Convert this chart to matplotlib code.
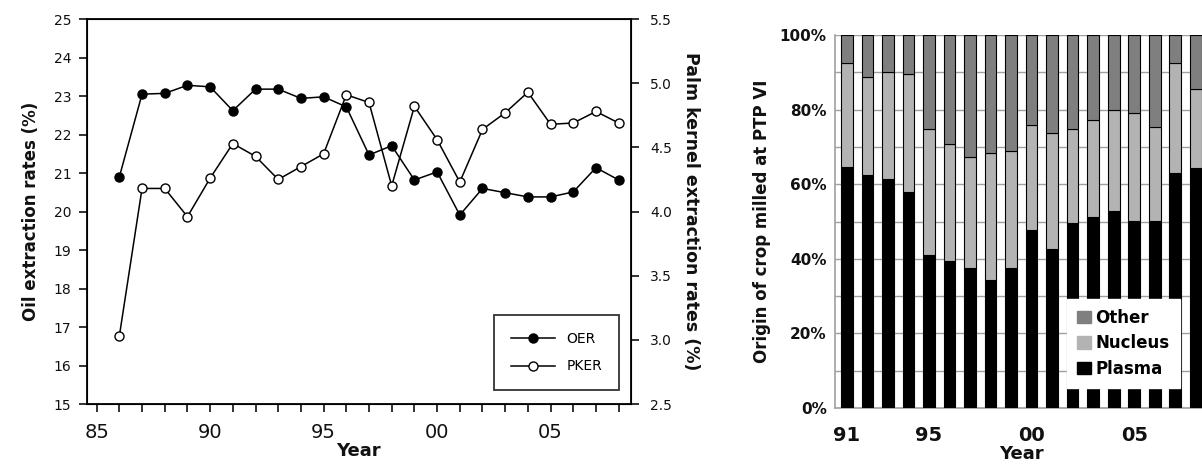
import matplotlib
matplotlib.use("Agg")
import matplotlib.pyplot as plt
from matplotlib.ticker import FixedLocator, FuncFormatter
from matplotlib.patches import Patch

plt.rcParams['font.family'] = ['DejaVu Sans']

# left panel: extraction rates
years = list(range(1986, 2009))
oer = [20.9, 23.05, 23.07, 23.28, 23.24, 22.62, 23.18, 23.18, 22.94, 22.98, 22.72, 21.47,
       21.71, 20.82, 21.03, 19.91, 20.60, 20.49, 20.38, 20.38, 20.51, 21.14, 20.82]
pker = [3.03, 4.18, 4.18, 3.96, 4.26, 4.53, 4.43, 4.25, 4.35, 4.45, 4.91, 4.85,
        4.20, 4.82, 4.56, 4.23, 4.64, 4.77, 4.93, 4.68, 4.69, 4.78, 4.69]

# right panel: origin of crop milled (%)
bar_years = ["91", "92", "93", "94", "95", "96", "97", "98", "99",
             "00", "01", "02", "03", "04", "05", "06", "07", "08"]
plasma = [64.7, 62.5, 61.3, 58.0, 40.9, 39.3, 37.5, 34.2, 37.5,
          47.8, 42.7, 49.6, 51.2, 52.9, 50.2, 50.2, 63.1, 64.3]
nucleus = [27.7, 26.3, 28.9, 31.6, 33.8, 31.5, 29.9, 34.3, 31.5,
           28.0, 31.0, 25.1, 25.9, 27.0, 29.0, 25.1, 29.5, 21.2]
other = [100 - p - n for p, n in zip(plasma, nucleus)]

fig = plt.figure(figsize=(12.02, 4.70), dpi=100)
txt = '#111111'

# ---- left chart ----
ax = fig.add_axes([0.0721, 0.1404, 0.4528, 0.819])
l1, = ax.plot(years, oer, color='black', lw=1.1, marker='o', ms=6.5,
              mfc='black', mec='black', label='OER')
ax.set_xlim(1984.56, 2008.54)
ax.set_ylim(15, 25)
ax.set_yticks(range(15, 26))
ax.xaxis.set_major_locator(FixedLocator(range(1985, 2009)))
ax.xaxis.set_major_formatter(FuncFormatter(
    lambda v, p: f"{int(round(v)) % 100:02d}" if int(round(v)) % 5 == 0 else ""))
ax.tick_params(axis='x', direction='out', length=6, width=1.2, pad=8,
               labelsize=14, colors=txt)
ax.tick_params(axis='y', direction='out', length=6, width=1.2, pad=5,
               labelsize=10, colors=txt)
for s in ax.spines.values():
    s.set_linewidth(1.3)
ax.set_xlabel('Year', fontsize=13, fontweight='bold', color=txt, labelpad=0)
ax.set_ylabel('Oil extraction rates (%)', fontsize=12, fontweight='bold',
              color=txt, labelpad=10)

ax2 = ax.twinx()
l2, = ax2.plot(years, pker, color='black', lw=1.1, marker='o', ms=6.5,
               mfc='white', mec='black', label='PKER')
ax2.set_ylim(2.5, 5.5)
ax2.set_yticks([2.5, 3.0, 3.5, 4.0, 4.5, 5.0, 5.5])
ax2.yaxis.set_major_formatter(FuncFormatter(lambda v, p: f"{v:.1f}"))
ax2.tick_params(axis='y', direction='out', length=6, width=1.2, pad=8,
                labelsize=10, colors=txt)
ax2.set_ylabel('Palm kernel extraction rates (%)', fontsize=12.5,
               fontweight='bold', color=txt, rotation=270, labelpad=20)
leg = ax2.legend(handles=[l1, l2], loc='lower right',
                 bbox_to_anchor=(0.978, 0.036), fontsize=10, handlelength=3.2,
                 fancybox=False, edgecolor='black', borderpad=1.2,
                 labelspacing=1.0, borderaxespad=0)
leg.get_frame().set_linewidth(1.3)

# ---- right chart ----
bx = fig.add_axes([0.6947, 0.1319, 0.3095, 0.7936])
xs = range(len(bar_years))
w = 0.57
bx.bar(xs, plasma, w, color='black', edgecolor='black', lw=0.8, zorder=3)
bx.bar(xs, nucleus, w, bottom=plasma, color='#b3b3b3', edgecolor='black',
       lw=0.8, zorder=3)
bx.bar(xs, other, w, bottom=[p + n for p, n in zip(plasma, nucleus)],
       color='#7f7f7f', edgecolor='black', lw=0.8, zorder=3)
bx.set_xlim(-0.58, 17.55)
bx.set_ylim(0, 100)
bx.set_yticks(range(0, 101, 20))
bx.set_yticks(range(0, 101, 10), minor=True)
bx.yaxis.set_major_formatter(FuncFormatter(lambda v, p: f"{int(v)}%"))
bx.grid(axis='y', which='both', color='#a0a0a0', lw=1, zorder=0)
bx.set_xticks([0, 4, 9, 14])
bx.set_xticklabels([bar_years[i] for i in [0, 4, 9, 14]])
bx.tick_params(axis='x', length=0, pad=13, labelsize=14, colors=txt)
bx.tick_params(axis='y', which='both', length=0, pad=6, labelsize=11, colors=txt)
for lab in bx.get_xticklabels() + bx.get_yticklabels():
    lab.set_fontweight('bold')
for k in ['top', 'right']:
    bx.spines[k].set_visible(False)
for k in ['left', 'bottom']:
    bx.spines[k].set_color('#a0a0a0')
    bx.spines[k].set_linewidth(1.2)
bx.set_xlabel('Year', fontsize=13, fontweight='bold', color=txt, labelpad=0)
bx.set_ylabel('Origin of crop milled at PTP VI', fontsize=12,
              fontweight='bold', color=txt, labelpad=6)
handles = [Patch(color='#7f7f7f', label='Other'),
           Patch(color='#b3b3b3', label='Nucleus'),
           Patch(color='black', label='Plasma')]
bleg = bx.legend(handles=handles, loc='lower left', bbox_to_anchor=(0.624, 0.054),
                 prop={'size': 12, 'weight': 'bold'}, frameon=True,
                 fancybox=False, edgecolor='white', framealpha=1,
                 handlelength=0.8, handleheight=0.8, handletextpad=0.3,
                 labelspacing=0.45, borderaxespad=0, borderpad=0.6)
bleg.set_zorder(5)

fig.savefig('out.png', dpi=100)
